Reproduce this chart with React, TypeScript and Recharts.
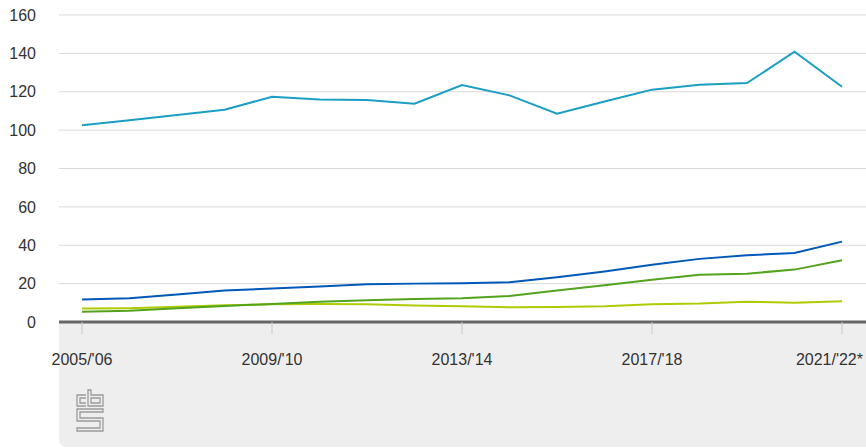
import { LineChart, Line, XAxis, YAxis, CartesianGrid } from 'recharts';

const categories = [
  "2005/'06", "2006/'07", "2007/'08", "2008/'09", "2009/'10", "2010/'11",
  "2011/'12", "2012/'13", "2013/'14", "2014/'15", "2015/'16", "2016/'17",
  "2017/'18", "2018/'19", "2019/'20", "2020/'21", "2021/'22*",
];

const series1 = [102.6, 105.2, 107.9, 110.6, 117.4, 115.9, 115.7, 113.8, 123.5, 118.1, 108.6, 114.9, 121.1, 123.7, 124.5, 140.9, 122.6];
const series2 = [11.7, 12.4, 14.3, 16.4, 17.4, 18.5, 19.7, 20.0, 20.2, 20.7, 23.3, 26.3, 29.8, 32.9, 34.8, 36.0, 41.9];
const series3 = [5.3, 5.8, 7.2, 8.4, 9.4, 10.5, 11.3, 12.0, 12.4, 13.6, 16.4, 19.1, 22.0, 24.6, 25.2, 27.3, 32.2];
const series4 = [7.0, 7.2, 7.9, 8.7, 9.2, 9.4, 9.2, 8.6, 8.2, 7.7, 7.8, 8.2, 9.2, 9.6, 10.6, 10.0, 10.8];

const yTicks = [0, 20, 40, 60, 80, 100, 120, 140, 160];

const data = categories.map((cat, i) => ({
  cat,
  s1: series1[i],
  s2: series2[i],
  s3: series3[i],
  s4: series4[i],
}));

const FONT = '"Liberation Sans", Arial, sans-serif';
const lastCat = categories[categories.length - 1];

// Highcharts-style: the last label is pulled in so it stays inside the chart
function XTick(props: any) {
  const { x, y, payload } = props;
  const isLast = payload.value === lastCat;
  return (
    <text
      x={isLast ? x + 21 : x}
      y={y}
      dy="0.71em"
      textAnchor={isLast ? 'end' : 'middle'}
      fill="#333"
      fontSize={16}
      fontFamily={FONT}
    >
      {payload.value}
    </text>
  );
}

function CbsLogo() {
  return (
    <svg
      width={30}
      height={44}
      viewBox="0 0 30 44"
      style={{ position: 'absolute', left: 75, top: 389 }}
    >
      <g fill="none" stroke="#9b9b9b" strokeWidth={1.3}>
        <path d="M11 6 H2 V17 H11 M11 9 H5 V14 H11" />
        <path d="M13 1 H16 V6 H28 V17 H13 Z M16 9 V14 H25 V9 Z" />
        <path d="M2 20 H28 V23 H5 V29 H28 V42 H2 V39 H25 V32 H2 Z" />
      </g>
    </svg>
  );
}

export default function App() {
  return (
    <div style={{ position: 'relative', width: 866, height: 448, background: '#fff', overflow: 'hidden' }}>
      <style>{'body{margin:0}'}</style>
      <div
        style={{
          position: 'absolute',
          left: 59,
          top: 322,
          width: 807,
          height: 125,
          background: '#eeeeee',
          borderBottomLeftRadius: 7,
        }}
      />
      <CbsLogo />
      <div style={{ position: 'absolute', left: 0, top: 0 }}>
        <LineChart
          width={866}
          height={448}
          data={data}
          margin={{ top: 15, right: 0, bottom: 0, left: 0 }}
        >
          <CartesianGrid vertical={false} stroke="#d9d9d9" />
          <YAxis
            domain={[0, 160]}
            ticks={yTicks}
            width={59}
            axisLine={false}
            tickLine={false}
            tickSize={0}
            tickMargin={23}
            tick={{ fill: '#333', fontSize: 16, fontFamily: FONT }}
          />
          <XAxis
            dataKey="cat"
            height={126}
            interval={3}
            padding={{ left: 23, right: 24 }}
            axisLine={{ stroke: '#666', strokeWidth: 3 }}
            tickLine={{ stroke: '#c8c8c8' }}
            tickSize={12}
            tickMargin={20}
            tick={<XTick />}
          />
          <Line type="linear" dataKey="s4" stroke="#afcb05" strokeWidth={2} dot={false} isAnimationActive={false} />
          <Line type="linear" dataKey="s3" stroke="#53a31d" strokeWidth={2} dot={false} isAnimationActive={false} />
          <Line type="linear" dataKey="s2" stroke="#0058b8" strokeWidth={2} dot={false} isAnimationActive={false} />
          <Line type="linear" dataKey="s1" stroke="#1a9ec4" strokeWidth={2} dot={false} isAnimationActive={false} />
        </LineChart>
      </div>
    </div>
  );
}
